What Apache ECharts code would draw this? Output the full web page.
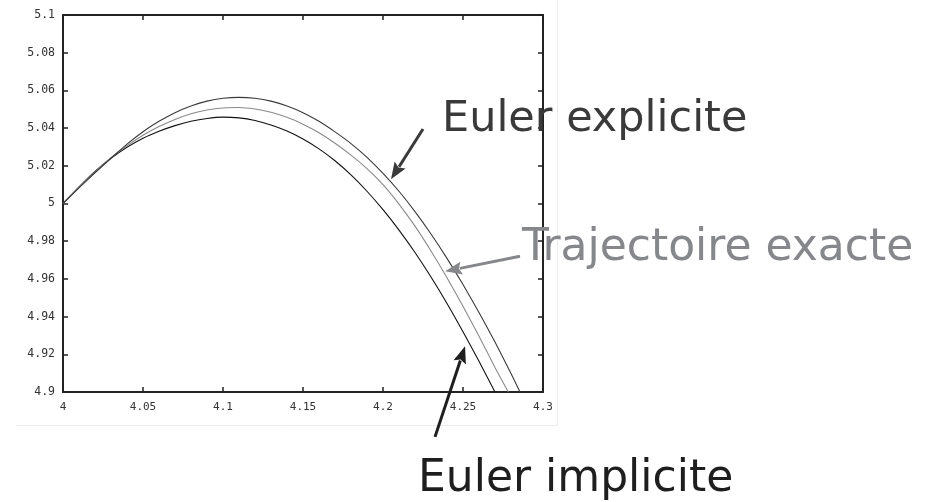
<!DOCTYPE html>
<html>
<head>
<meta charset="utf-8">
<script src="https://cdn.jsdelivr.net/npm/echarts@6/dist/echarts.min.js"></script>
<style>
  html, body { margin: 0; padding: 0; background: #ffffff; }
  #chart { width: 937px; height: 502px; }
</style>
</head>
<body>
<div id="chart"></div>
<script>
// Sample abscissae shared by the three trajectories
const xs = [4.00, 4.01, 4.02, 4.03, 4.04, 4.05, 4.06, 4.07, 4.08, 4.09,
            4.10, 4.11, 4.12, 4.13, 4.14, 4.15, 4.16, 4.17, 4.18, 4.19,
            4.20, 4.21, 4.22, 4.23, 4.24, 4.25, 4.26, 4.27];

// Explicit Euler scheme
const explicitY = [5.0000, 5.0083, 5.0163, 5.0240, 5.0315, 5.0381, 5.0436, 5.0482, 5.0517, 5.0543,
                   5.0558, 5.0563, 5.0558, 5.0543, 5.0517, 5.0482, 5.0436, 5.0380, 5.0318, 5.0245,
                   5.0160, 5.0065, 4.9957, 4.9838, 4.9709, 4.9570, 4.9422, 4.9265];
const explicitEnd = [[4.28, 4.9098], [4.2856, 4.9000]];

// Exact trajectory
const exactY = [5.0000, 5.0086, 5.0168, 5.0243, 5.0306, 5.0362, 5.0408, 5.0446, 5.0476, 5.0496,
                5.0507, 5.0509, 5.0501, 5.0484, 5.0457, 5.0421, 5.0375, 5.0320, 5.0257, 5.0185,
                5.0100, 4.9997, 4.9880, 4.9748, 4.9606, 4.9455, 4.9296, 4.9130];
const exactEnd = [[4.2783, 4.9000]];

// Implicit Euler scheme
const implicitY = [5.0000, 5.0088, 5.0170, 5.0240, 5.0298, 5.0346, 5.0383, 5.0413, 5.0436, 5.0451,
                   5.0458, 5.0454, 5.0440, 5.0416, 5.0384, 5.0342, 5.0290, 5.0227, 5.0152, 5.0065,
                   4.9967, 4.9859, 4.9740, 4.9610, 4.9470, 4.9320, 4.9163, 4.9000];

const xTicks = { min: 4, max: 4.3, step: 0.05 };
const yTicks = { min: 4.9, max: 5.1, step: 0.02 };

// Annotation arrows: tail and tip in data units
const labels = ['Euler explicite', 'Trajectoire exacte', 'Euler implicite'];
const arrowTails = [[4.2250, 5.0395], [4.2856, 4.9720], [4.2325, 4.8762]];
const arrowTips  = [[4.2050, 5.0128], [4.2388, 4.9640], [4.2513, 4.9243]];

function pairs(x, y) { return y.map((v, i) => [x[i], v]); }

const tickFont = '"DejaVu Sans Mono", "Liberation Mono", monospace';
const fmt = v => String(parseFloat(v.toFixed(2)));

const chart = echarts.init(document.getElementById('chart'), null, { renderer: 'canvas' });

const frameAxis = {
  axisLine: { show: true, onZero: false, lineStyle: { color: '#222', width: 2 } },
  axisTick: { show: true, inside: true, length: 5, lineStyle: { color: '#222', width: 1.5 } },
  splitLine: { show: false }
};

const lineSeries = (name, data, color, width) => ({
  name, type: 'line', data, showSymbol: false, smooth: 0.2, clip: true,
  lineStyle: { color, width }, silent: true, animation: false
});

chart.setOption({
  backgroundColor: '#ffffff',
  animation: false,
  grid: { left: 63, top: 15, right: 394, bottom: 110, containLabel: false },
  xAxis: [
    Object.assign({
      type: 'value', position: 'bottom', min: xTicks.min, max: xTicks.max, interval: xTicks.step,
      axisLabel: { formatter: fmt, margin: 10, color: '#333', fontFamily: tickFont, fontSize: 11,
                   showMinLabel: true, showMaxLabel: true }
    }, frameAxis),
    Object.assign({
      type: 'value', position: 'top', min: xTicks.min, max: xTicks.max, interval: xTicks.step,
      axisLabel: { show: false }
    }, frameAxis)
  ],
  yAxis: [
    Object.assign({
      type: 'value', position: 'left', min: yTicks.min, max: yTicks.max, interval: yTicks.step,
      axisLabel: { formatter: fmt, margin: 8, color: '#333', fontFamily: tickFont, fontSize: 11.5 }
    }, frameAxis),
    Object.assign({
      type: 'value', position: 'right', min: yTicks.min, max: yTicks.max, interval: yTicks.step,
      axisLabel: { show: false }
    }, frameAxis)
  ],
  series: [
    lineSeries('Euler implicite', pairs(xs, implicitY), '#111111', 1.1),
    lineSeries('Trajectoire exacte', pairs(xs, exactY).concat(exactEnd), '#8a8a8a', 1.1),
    lineSeries('Euler explicite', pairs(xs, explicitY).concat(explicitEnd), '#3a3a3a', 1.1)
  ]
});

// Arrows and captions drawn on top of the plot
function arrow(tail, tip, color) {
  const a = chart.convertToPixel({ xAxisIndex: 0, yAxisIndex: 0 }, tail);
  const b = chart.convertToPixel({ xAxisIndex: 0, yAxisIndex: 0 }, tip);
  const dx = b[0] - a[0], dy = b[1] - a[1];
  const len = Math.hypot(dx, dy), ux = dx / len, uy = dy / len;
  const headLen = 17, headHalf = 6.5;
  const bx = b[0] - ux * headLen, by = b[1] - uy * headLen;
  return [
    { type: 'line', silent: true, z: 10,
      shape: { x1: a[0], y1: a[1], x2: bx + ux * 2, y2: by + uy * 2 },
      style: { stroke: color, lineWidth: 3 } },
    { type: 'polygon', silent: true, z: 10,
      shape: { points: [[b[0], b[1]],
                        [bx - uy * headHalf, by + ux * headHalf],
                        [bx + ux * 3, by + uy * 3],
                        [bx + uy * headHalf, by - ux * headHalf]] },
      style: { fill: color } }
  ];
}

const captionFont = '"DejaVu Sans", Verdana, sans-serif';
const captionColors = ['#3a3a3a', '#86878b', '#1e1e1e'];
const captionSizes = [43, 44, 44];
const captionPos = [[442, 141], [522, 271], [418, 502]];

const elements = [
  // light border of the plot panel
  { type: 'line', silent: true, z: 1, shape: { x1: 557.5, y1: 0, x2: 557.5, y2: 425 },
    style: { stroke: '#ececec', lineWidth: 1 } },
  { type: 'line', silent: true, z: 1, shape: { x1: 17, y1: 425.5, x2: 557.5, y2: 425.5 },
    style: { stroke: '#ececec', lineWidth: 1 } }
];
labels.forEach((t, i) => {
  elements.push(...arrow(arrowTails[i], arrowTips[i], captionColors[i]));
  elements.push({
    type: 'text', silent: true, z: 11, x: captionPos[i][0], y: captionPos[i][1],
    style: { text: t, fill: captionColors[i], fontSize: captionSizes[i], fontFamily: captionFont,
             textAlign: 'left', textVerticalAlign: 'bottom' }
  });
});
chart.setOption({ graphic: { elements } });
</script>
</body>
</html>
